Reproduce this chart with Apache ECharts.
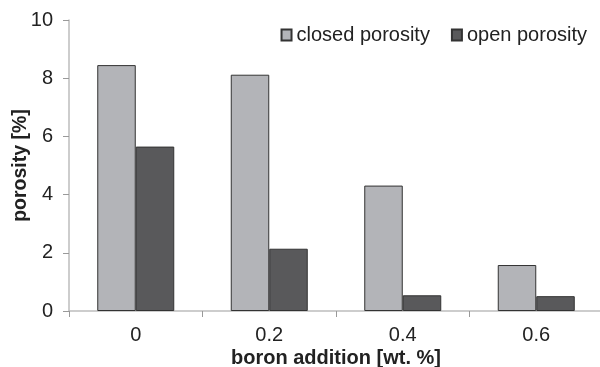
<!DOCTYPE html>
<html><head><meta charset="utf-8">
<script src="https://cdn.jsdelivr.net/npm/echarts@6/dist/echarts.min.js"></script>
<style>html,body{margin:0;padding:0;background:#fff}#c{width:600px;height:367px}</style>
</head><body><div id="c"></div>
<script>
const categories = ['0', '0.2', '0.4', '0.6'];
const closedPorosity = [8.45, 8.12, 4.31, 1.58];
const openPorosity = [5.65, 2.14, 0.54, 0.51];
const yTicks = [0, 2, 4, 6, 8, 10];

const chart = echarts.init(document.getElementById('c'), null, {renderer: 'canvas'});
const font = 'Liberation Sans, Arial, sans-serif';
chart.setOption({
  animation: false,
  textStyle: {fontFamily: font},
  grid: {left: 69, top: 20, bottom: 56, right: -3, containLabel: false, outerBoundsMode: 'none'},
  legend: {
    right: 8, top: 20,
    icon: 'rect',
    itemWidth: 10, itemHeight: 11, itemGap: 21,
    textStyle: {fontSize: 20, color: '#222', fontFamily: font},
    data: ['closed porosity', 'open porosity']
  },
  xAxis: {
    type: 'category', data: categories,
    name: 'boron addition [wt. %]', nameLocation: 'middle', nameGap: 37, nameMoveOverlap: false,
    nameTextStyle: {fontSize: 20, fontWeight: 'bold', color: '#222', fontFamily: font},
    axisLine: {lineStyle: {color: '#bdbdbd', width: 1.5}},
    axisTick: {show: true, length: 6, lineStyle: {color: '#999'}},
    axisLabel: {fontSize: 20, color: '#222', margin: 14, fontFamily: font}
  },
  yAxis: {
    type: 'value', min: 0, max: 10, interval: 2,
    name: 'porosity [%]', nameLocation: 'middle', nameGap: 38, nameMoveOverlap: false,
    nameTextStyle: {fontSize: 19.5, fontWeight: 'bold', color: '#222', fontFamily: font},
    axisLine: {show: true, lineStyle: {color: '#bdbdbd', width: 1.5}},
    axisTick: {show: true, length: 6, lineStyle: {color: '#999'}},
    splitLine: {show: false},
    axisLabel: {fontSize: 20, color: '#222', margin: 16, fontFamily: font,
      formatter: v => yTicks.includes(v) ? String(v) : ''}
  },
  series: [
    {name: 'closed porosity', type: 'bar', data: closedPorosity, barWidth: 38.5, barGap: '0%',
     itemStyle: {color: '#b3b4b8', borderColor: '#333', borderWidth: 1}},
    {name: 'open porosity', type: 'bar', data: openPorosity, barWidth: 38.5, barGap: '0%',
     itemStyle: {color: '#59595b', borderColor: '#333', borderWidth: 1}}
  ]
});
</script></body></html>
